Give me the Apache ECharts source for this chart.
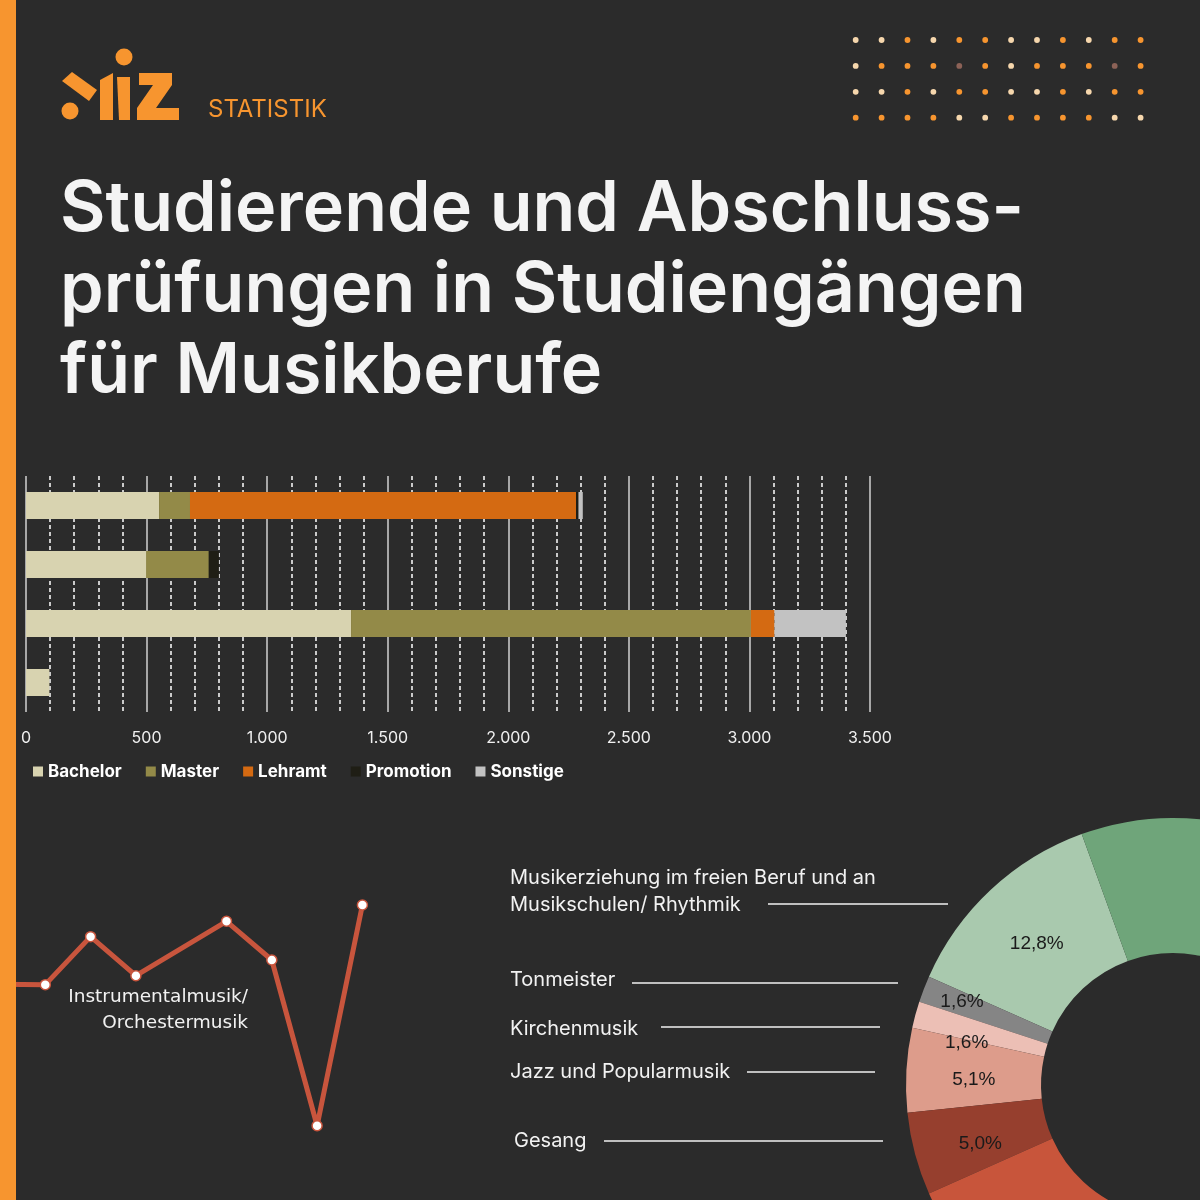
<!DOCTYPE html>
<html>
<head>
<meta charset="utf-8">
<script src="https://cdn.jsdelivr.net/npm/echarts@6/dist/echarts.min.js"></script>
<style>
    html, body { margin: 0; padding: 0; background: #2b2b2b; }
    #chart { width: 1200px; height: 1200px; }
</style>
</head>
<body>
<div id="chart"></div>
<script>
// bar chart: students by degree type
const barCategories = ["Lehramt Musik", "Künstlerisch-wissenschaftlich", "Künstlerisch", "Weitere"];
const seriesNames = ["Bachelor", "Master", "Lehramt", "Promotion", "Sonstige"];
const bachelor = [552, 498, 1348, 97];
const master = [128, 260, 1658, 0];
const lehramt = [1601, 0, 98, 0];
const promotion = [10, 42, 0, 0];
const sonstige = [18, 0, 296, 0];
const xTicks = [0, 500, 1000, 1500, 2000, 2500, 3000, 3500];

// line chart (Instrumentalmusik/Orchestermusik), one value went unreported
const lineYears = ["2011", "2012", "2013", "2014", "2015", "2016", "2017", "2018", "2019"];
const lineValues = [67.4, 67.3, 82.3, 70.1, null, 87.1, 75.0, 23.2, 92.2];

// donut: share of subjects in %
const pieNames = ["Musikerziehung im freien Beruf und an Musikschulen/ Rhythmik", "Tonmeister", "Kirchenmusik",
    "Jazz und Popularmusik", "Gesang", "Instrumentalmusik/Orchestermusik", "Komposition/Dirigieren", "Sonstige", "Lehramt Musik"];
const pieValues = [12.8, 1.6, 1.6, 5.1, 5.0, 38.0, 6.0, 7.9, 22.0];

const barColors = ["#d8d3b0", "#938a48", "#d46a12", "#1f1e15", "#c2c2c2"];
const pieColors = ["#a9c9ae", "#858585", "#ecbfb5", "#dd9c8b", "#963f2e", "#c8553b", "#b84a35", "#5f9a6c", "#6fa57a"];
const orange = "#f7952f";
const bg = "#2b2b2b";

// nudges for the percentage labels (pixels)
const pieLabelShift = [[2, 7], [-22, -11], [-11, 11], [3, 6], [3, 6]];

const fmtDE = v => String(v).replace(/\B(?=(\d{3})+(?!\d))/g, ".");
const fmtPct = v => v.toFixed(1).replace(".", ",") + "%";

const chart = echarts.init(document.getElementById("chart"), null, {renderer: "canvas"});

// decorative dot grid top right
const dotPattern = [
    "CCOCOOCCOCOO",
    "COOOBOCOOOBO",
    "CCOCOOCCOCOO",
    "OOOOCCOOOOCC"
];
const dotColors = {C: "#f6d7ad", O: orange, B: "#8c6257"};
const dots = [];
dotPattern.forEach((row, j) => {
    row.split("").forEach((c, i) => {
        dots.push({
            type: "circle",
            shape: {cx: 855.7 + 25.9 * i, cy: 40 + 25.9 * j, r: 2.9},
            style: {fill: dotColors[c]}
        });
    });
});

// logo shapes
const logo = [
    {type: "circle", shape: {cx: 124, cy: 57, r: 8.5}, style: {fill: orange}},
    {type: "circle", shape: {cx: 70, cy: 111, r: 8.5}, style: {fill: orange}},
    {type: "polygon", shape: {points: [[62, 81], [72, 72], [97, 90], [89, 101]]}, style: {fill: orange}},
    {type: "polygon", shape: {points: [[100, 80], [113, 73], [113, 120], [100, 120]]}, style: {fill: orange}},
    {type: "polygon", shape: {points: [[117, 77], [130, 77], [130, 120], [119, 120]]}, style: {fill: orange}},
    {type: "polygon", shape: {points: [[139, 73], [172, 73], [172, 85], [156, 108], [179, 108], [179, 120],
                [137, 120], [137, 108], [153, 85], [139, 85]]}, style: {fill: orange}},
    {type: "text", x: 208, y: 110, style: {text: "STATISTIK", fill: orange, font: "400 24px Inter",
            verticalAlign: "middle"}}
];

// donut leader labels
const leader = [
    {text: "Musikerziehung im freien Beruf und an\nMusikschulen/ Rhythmik", x: 510, y: 891, lx1: 768, lx2: 948, ly: 904},
    {text: pieNames[1], x: 510, y: 980, lx1: 632, lx2: 898, ly: 983},
    {text: pieNames[2], x: 510, y: 1029, lx1: 661, lx2: 880, ly: 1027},
    {text: pieNames[3], x: 510, y: 1072, lx1: 747, lx2: 875, ly: 1072},
    {text: pieNames[4], x: 514, y: 1141, lx1: 604, lx2: 883, ly: 1141}
];
const leaderGraphics = [];
leader.forEach(l => {
    leaderGraphics.push({type: "text", x: l.x, y: l.y, style: {text: l.text, fill: "#f2f2f2",
            font: "400 20px Inter", lineHeight: 27, verticalAlign: "middle"}});
    leaderGraphics.push({type: "line", shape: {x1: l.lx1, y1: l.ly, x2: l.lx2, y2: l.ly},
        style: {stroke: "#f2f2f2", lineWidth: 1.5}});
});

chart.setOption({
    backgroundColor: bg,
    animation: false,
    textStyle: {fontFamily: "Inter"},
    grid: [
        {left: 26, right: 330, top: 476, height: 236},
        {left: 0, right: 837.6, top: 880, bottom: 0}
    ],
    legend: {
        data: seriesNames,
        left: 28,
        top: 758,
        icon: "rect",
        itemWidth: 10,
        itemHeight: 10,
        itemGap: 24,
        textStyle: {color: "#ffffff", fontSize: 17, fontWeight: "bold", fontFamily: "Inter"}
    },
    xAxis: [
        {
            type: "value",
            gridIndex: 0,
            min: xTicks[0],
            max: xTicks[xTicks.length - 1],
            interval: xTicks[1] - xTicks[0],
            axisLine: {show: false},
            axisTick: {show: false},
            axisLabel: {color: "#f0f0f0", fontSize: 16, margin: 18, formatter: fmtDE},
            splitLine: {show: true, lineStyle: {color: "#d2d2d2", width: 1.5}},
            minorTick: {show: false, splitNumber: 5},
            minorSplitLine: {show: true, lineStyle: {color: "#ffffff", width: 1.5, type: [4, 3]}}
        },
        {
            type: "category",
            gridIndex: 1,
            data: lineYears,
            boundaryGap: false,
            show: false
        }
    ],
    yAxis: [
        {
            type: "category",
            gridIndex: 0,
            data: barCategories,
            inverse: true,
            show: false
        },
        {
            type: "value",
            gridIndex: 1,
            min: 0,
            max: 100,
            show: false
        }
    ],
    series: [
        ...seriesNames.map((name, i) => ({
            name: name,
            type: "bar",
            stack: "total",
            xAxisIndex: 0,
            yAxisIndex: 0,
            barWidth: 27,
            itemStyle: {color: barColors[i]},
            data: [bachelor, master, lehramt, promotion, sonstige][i]
        })),
        {
            name: "Instrumentalmusik/Orchestermusik",
            type: "line",
            xAxisIndex: 1,
            yAxisIndex: 1,
            data: lineValues,
            connectNulls: true,
            symbol: "circle",
            symbolSize: 10,
            lineStyle: {color: "#c8553d", width: 5},
            itemStyle: {color: "#ffffff", borderColor: "#c8553d", borderWidth: 1.5},
            z: 3
        },
        {
            name: "Fächer",
            type: "pie",
            center: [1173, 1085],
            radius: [132, 267],
            startAngle: 110,
            clockwise: false,
            avoidLabelOverlap: false,
            label: {
                show: true,
                position: "inside",
                color: "#1a1a1a",
                fontSize: 19,
                fontFamily: "Liberation Sans",
                formatter: p => fmtPct(p.value)
            },
            labelLayout: p => {
                const s = pieLabelShift[p.dataIndex] || [0, 0];
                return {dx: s[0], dy: s[1]};
            },
            labelLine: {show: false},
            data: pieNames.map((n, i) => ({
                name: n,
                value: pieValues[i],
                itemStyle: {color: pieColors[i]},
                label: {show: i < 5}
            }))
        }
    ],
    graphic: [
        ...dots,
        ...logo,
        {
            type: "text",
            x: 60,
            y: 169,
            style: {
                text: "Studierende und Abschluss-\nprüfungen in Studiengängen\nfür Musikberufe",
                fill: "#f4f4f4",
                font: "600 70px Inter",
                lineHeight: 81
            }
        },
        {
            type: "text",
            x: 248,
            y: 984,
            style: {
                text: "Instrumentalmusik/\nOrchestermusik",
                fill: "#f2f2f2",
                font: "400 18.5px 'DejaVu Sans'",
                lineHeight: 26,
                align: "right"
            }
        },
        ...leaderGraphics,
        {type: "rect", shape: {x: 0, y: 0, width: 16, height: 1200}, style: {fill: orange}, z: 100}
    ]
});
</script>
</body>
</html>
